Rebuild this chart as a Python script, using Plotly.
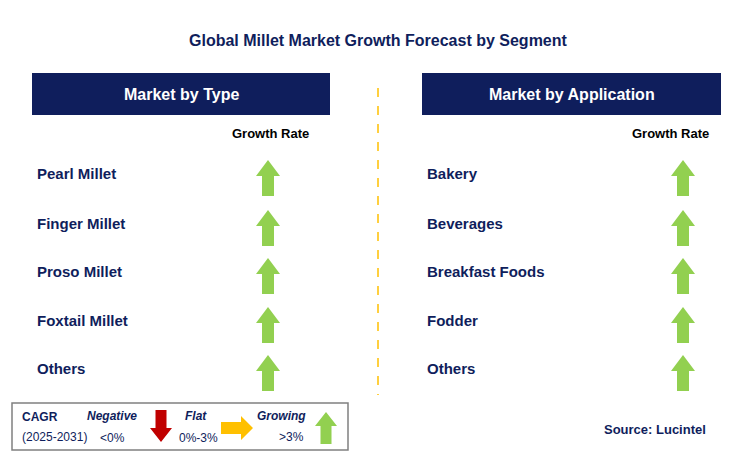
import plotly.graph_objects as go

type_labels = ["Pearl Millet", "Finger Millet", "Proso Millet", "Foxtail Millet", "Others"]
type_growth = ["up", "up", "up", "up", "up"]
app_labels = ["Bakery", "Beverages", "Breakfast Foods", "Fodder", "Others"]
app_growth = ["up", "up", "up", "up", "up"]
row_y = [173, 223, 271, 320, 368]

NAVY = "#0F1E5C"
GREEN = "#92D050"
RED = "#C00000"
ORANGE = "#FFC000"
FONT = "Liberation Sans"

fig = go.Figure()

def arrow(cx, cy, kind, color, L=36, W=24, S=12, H=16):
    if kind == "up":
        t, b = cy - L / 2, cy + L / 2
        xs = [cx, cx + W / 2, cx + S / 2, cx + S / 2, cx - S / 2, cx - S / 2, cx - W / 2, cx]
        ys = [t, t + H, t + H, b, b, t + H, t + H, t]
    elif kind == "down":
        t, b = cy - L / 2, cy + L / 2
        xs = [cx, cx + W / 2, cx + S / 2, cx + S / 2, cx - S / 2, cx - S / 2, cx - W / 2, cx]
        ys = [b, b - H, b - H, t, t, b - H, b - H, b]
    else:
        l, r = cx - L / 2, cx + L / 2
        ys = [cy, cy + W / 2, cy + S / 2, cy + S / 2, cy - S / 2, cy - S / 2, cy - W / 2, cy]
        xs = [r, r - H, r - H, l, l, r - H, r - H, r]
    fig.add_trace(go.Scatter(x=xs, y=ys, fill="toself", fillcolor=color, mode="lines",
                             line=dict(width=0, color=color), hoverinfo="skip", showlegend=False))

colors = {"up": GREEN, "down": RED, "flat": ORANGE}
for lab, g, y in zip(type_labels, type_growth, row_y):
    fig.add_annotation(x=35, y=y, text=f"<b>{lab}</b>", xanchor="left", showarrow=False,
                       font=dict(size=15, color=NAVY, family=FONT))
    arrow(268, y + 5, g, colors[g])
for lab, g, y in zip(app_labels, app_growth, row_y):
    fig.add_annotation(x=425, y=y, text=f"<b>{lab}</b>", xanchor="left", showarrow=False,
                       font=dict(size=15, color=NAVY, family=FONT))
    arrow(683, y + 5, g, colors[g])

shapes = [
    dict(type="rect", x0=32, x1=330, y0=73, y1=115, fillcolor=NAVY, line_width=0),
    dict(type="rect", x0=422, x1=721, y0=73, y1=115, fillcolor=NAVY, line_width=0),
    dict(type="line", x0=378, x1=378, y0=88, y1=395, line=dict(color=ORANGE, width=1.5, dash="dash")),
    dict(type="rect", x0=12, x1=348, y0=403, y1=450, line=dict(color="#808080", width=1.5)),
]
for s in shapes:
    s.update(xref="x", yref="y", layer="below")
fig.update_layout(shapes=shapes)

def txt(x, y, t, size, color, anchor="center", bold=True, italic=False):
    s = t
    if bold: s = f"<b>{s}</b>"
    if italic: s = f"<i>{s}</i>"
    fig.add_annotation(x=x, y=y, text=s, xanchor=anchor, showarrow=False,
                       font=dict(size=size, color=color, family=FONT))

txt(378, 40, "Global Millet Market Growth Forecast by Segment", 16, NAVY)
txt(181, 94, "Market by Type", 16, "white")
txt(572, 94, "Market by Application", 16, "white")
txt(270, 133, "Growth Rate", 13, "black")
txt(670, 133, "Growth Rate", 13, "black")
txt(708, 429, "Source: Lucintel", 13, NAVY, anchor="right")

# legend
txt(20, 417, "CAGR", 12, NAVY, anchor="left")
txt(20, 437, "(2025-2031)", 12, NAVY, anchor="left", bold=False)
txt(112, 416, "Negative", 12, NAVY, italic=True)
txt(112, 438, "&lt;0%", 12, NAVY, bold=False)
arrow(161, 426, "down", RED, L=32, W=22, S=11, H=14)
txt(196, 416, "Flat", 12, NAVY, italic=True)
txt(198, 438, "0%-3%", 12, NAVY, bold=False)
arrow(237, 428, "flat", ORANGE, L=32, W=24, S=12, H=12)
txt(281, 416, "Growing", 12, NAVY, italic=True)
txt(291, 437, "&gt;3%", 12, NAVY, bold=False)
arrow(326, 428, "up", GREEN, L=32, W=22, S=11, H=14)

# page body has an 8px margin; offset axis ranges so coordinates match the window pixels
fig.update_layout(
    width=747, height=462, margin=dict(l=0, r=0, t=0, b=0),
    paper_bgcolor="white", plot_bgcolor="white",
    xaxis=dict(range=[8, 755], visible=False, fixedrange=True),
    yaxis=dict(range=[470, 8], visible=False, fixedrange=True),
)
fig.write_html("out.html")
